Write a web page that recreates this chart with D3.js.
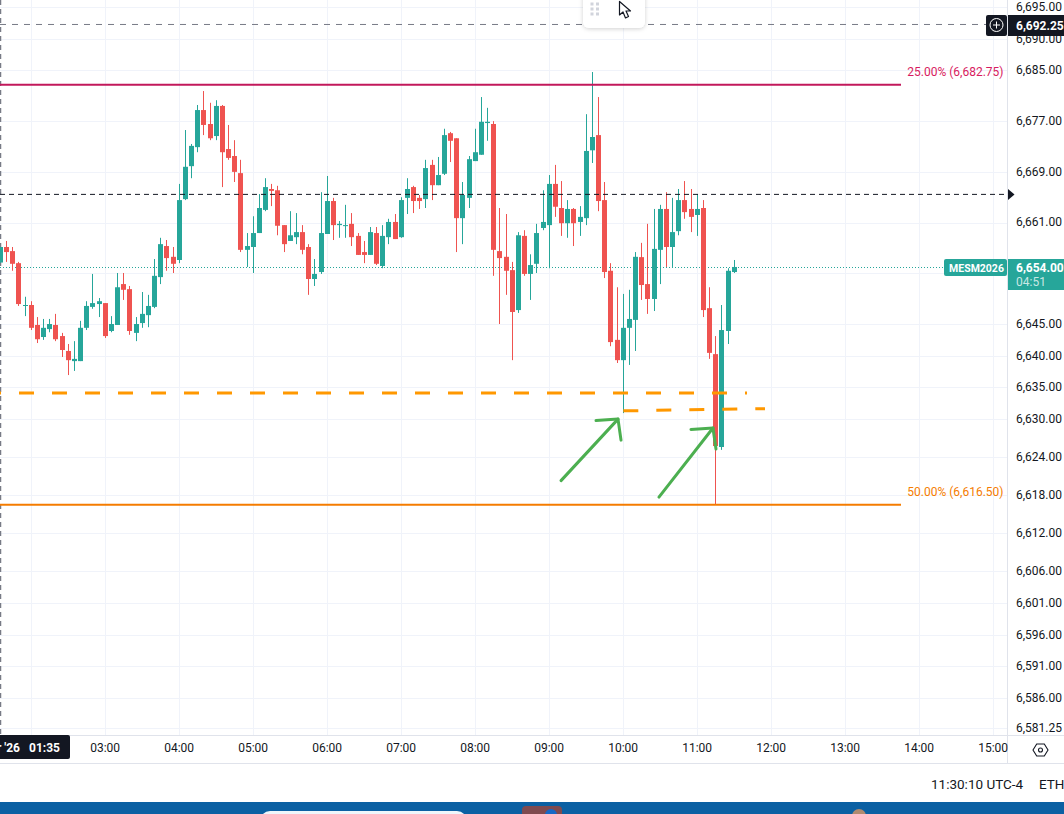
<!DOCTYPE html>
<html>
<head>
<meta charset="utf-8">
<script src="https://cdn.jsdelivr.net/npm/d3@7"></script>
<style>
html,body{margin:0;padding:0;background:#fff;overflow:hidden}
svg{display:block;font-family:Roboto,"Liberation Sans",sans-serif}
</style>
</head>
<body>
<svg id="c" width="1064" height="814"></svg>
<script>
// 5-minute bars, minutes since midnight of the first bar and bar step
const firstBarMinute = 95;
const barStepMinutes = 5;
const opens = [6654.7,6657.15,6656.5,6654.6,6647.85,6648.0,6644.85,6642.95,6644.2,6644.85,6643.1,6640.75,6639.15,6639.15,6644.4,6647.7,6648.15,6648.3,6643.9,6644.85,
6651.3,6650.5,6643.6,6645.15,6646.4,6647.7,6652.4,6657.3,6655.6,6655.1,6664.7,6669.9,6672.9,6678.75,6676.55,6674.65,6679.4,6672.6,6671.5,6668.8,
6656.7,6657.15,6659.35,6663.0,6666.3,6666.1,6660.6,6658.1,6658.7,6659.5,6657.15,6652.1,6653.2,6659.2,6664.4,6660.6,6660.5,6660.8,6658.9,6656.35,
6655.9,6659.35,6654.15,6658.7,6661.1,6658.7,6664.9,6666.6,6664.9,6664.7,6670.1,6666.9,6668.7,6675.1,6674.3,6661.7,6664.9,6670.7,6671.7,6676.7,
6676.55,6656.5,6655.6,6653.5,6647.2,6658.9,6652.9,6654.5,6660.15,6660.6,6667.1,6663.3,6660.9,6663.15,6661.1,6661.7,6672.4,6674.8,6664.55,6653.4,
6642.5,6639.3,6644.4,6645.65,6655.55,6651.3,6648.95,6656.7,6663.15,6657.15,6659.65,6664.55,6663.15,6662.2,6663.3,6647.5,6640.25,6625.6,6643.9,6653.2];
const highs = [6657.15,6658.1,6657.15,6654.8,6649.3,6648.6,6646.1,6645.8,6645.8,6646.6,6643.6,6641.85,6642.3,6645.5,6648.6,6652.9,6649.1,6648.3,6646.25,6653.05,
6653.05,6651.0,6646.1,6650.05,6649.6,6655.25,6658.6,6658.25,6657.15,6667.1,6675.6,6673.4,6679.55,6681.75,6679.9,6680.3,6679.55,6676.4,6674.0,6670.9,
6659.35,6662.0,6665.5,6668.0,6667.1,6666.8,6660.6,6662.8,6662.5,6660.6,6657.6,6655.25,6665.8,6668.35,6664.9,6661.25,6663.8,6662.5,6659.35,6658.1,
6660.3,6660.3,6660.6,6661.6,6662.35,6665.0,6668.0,6666.8,6665.35,6670.9,6670.9,6671.35,6675.8,6675.3,6674.3,6667.4,6671.5,6675.8,6680.8,6679.1,
6677.0,6663.3,6662.35,6654.8,6659.5,6659.8,6656.0,6660.8,6666.1,6668.5,6670.1,6667.55,6664.55,6663.3,6663.6,6678.1,6684.75,6680.8,6667.4,6654.6,
6650.8,6649.75,6650.4,6656.35,6657.8,6660.8,6663.15,6663.8,6665.8,6664.9,6666.3,6667.55,6666.3,6665.5,6664.55,6650.8,6643.1,6648.0,6653.8,6655.1];
const lows = [6654.7,6654.8,6653.4,6647.85,6646.25,6644.05,6642.0,6642.5,6643.7,6642.3,6639.8,6636.95,6637.6,6639.15,6644.05,6647.4,6646.1,6642.8,6643.7,6644.85,
6648.8,6643.3,6642.3,6644.4,6644.5,6647.5,6651.3,6653.4,6653.05,6654.6,6664.55,6668.0,6672.1,6674.8,6674.0,6674.0,6666.6,6670.9,6667.4,6656.35,
6654.0,6653.05,6659.35,6662.8,6663.6,6659.0,6656.35,6658.1,6657.6,6656.0,6649.6,6651.0,6652.9,6659.2,6658.25,6658.6,6658.6,6657.3,6655.9,6654.6,
6655.9,6654.3,6653.8,6657.6,6658.4,6658.6,6662.35,6662.5,6663.15,6663.3,6664.55,6666.9,6668.5,6670.55,6656.35,6657.6,6663.3,6670.7,6671.7,6673.9,
6652.6,6645.0,6649.6,6639.3,6646.75,6652.6,6648.8,6653.05,6659.8,6653.8,6661.9,6658.9,6658.6,6657.3,6658.9,6660.6,6670.4,6662.8,6652.25,6641.5,
6638.85,6630.95,6638.55,6640.75,6648.8,6646.6,6647.05,6651.3,6654.0,6654.0,6659.0,6661.6,6659.5,6658.9,6646.1,6639.5,6616.5,6625.15,6641.85,6653.05];
const closes = [6657.15,6656.35,6654.5,6648.15,6648.0,6644.4,6642.6,6644.4,6645.0,6642.6,6640.9,6639.3,6639.5,6644.4,6647.85,6648.3,6648.6,6643.1,6645.0,6650.8,
6650.4,6643.9,6645.0,6646.6,6647.85,6652.6,6657.6,6655.4,6654.5,6664.55,6669.8,6673.1,6678.75,6676.4,6674.3,6679.4,6672.1,6671.2,6669.0,6656.7,
6657.3,6659.35,6663.3,6666.6,6666.0,6660.5,6657.6,6659.0,6659.5,6656.7,6652.1,6652.9,6659.35,6664.4,6660.6,6660.8,6660.6,6658.7,6655.9,6655.9,
6659.5,6654.5,6658.9,6661.1,6658.4,6664.55,6666.3,6664.4,6664.4,6669.6,6666.9,6668.5,6674.8,6673.9,6661.7,6665.35,6671.0,6672.1,6676.9,6676.9,
6656.7,6655.4,6653.4,6646.9,6659.0,6652.9,6654.3,6659.35,6661.1,6667.1,6663.5,6660.9,6663.15,6660.9,6661.9,6672.3,6674.5,6664.4,6653.2,6642.15,
6639.3,6644.4,6645.8,6655.6,6651.15,6648.95,6656.85,6663.15,6657.15,6659.5,6664.55,6662.65,6661.9,6663.15,6647.2,6640.45,6625.75,6644.05,6653.4,6654.0];

const yGridValues = [6695,6690,6685,6677,6669,6661,6653,6645,6640,6635,6630,6624,6618,6612,6606,6601,6596,6591,6586,6581.25];
const yHiddenLabels = [6653];
const xGridMinutes = [120,180,240,300,360,420,480,540,600,660,720,780,840,900];
const xHiddenLabels = [120];
const fibLevels = [{label:"25.00% (6,682.75)",price:6682.75,color:"#c2185b",text:"#d81b60"},
                   {label:"50.00% (6,616.50)",price:6616.5,color:"#f57c00",text:"#f57c00"}];
const symbol = "MESM2026", lastPrice = 6654, countdown = "04:51";
const dateLabel = "Apr '26";
const pendingPrice = 6692.25, blackLinePrice = 6665.45;
const supportAPrice = 6634.1;
const supportBPrices = [6631.3,6631.65];
// green arrows: [minute, price] of tail and tip
const arrows = [[[549.5,6620.3],[595.7,6630.0]],[[628.9,6617.7],[672.7,6628.6]]];

const W=1064, plotRight=1007.5, axisY=735, axisBottom=763;
const x = d3.scaleLinear().domain([95,900]).range([0.5,993.3]);
const y = d3.scaleLinear().domain([6682.75,6616.5]).range([84.7,504.7]);
const svg = d3.select("#c");

// grid
const grid = svg.append("g").attr("stroke","#f0f3fa").attr("stroke-width",1);
grid.selectAll("line.h").data(yGridValues).join("line").attr("class","h")
  .attr("x1",0).attr("x2",plotRight).attr("y1",d=>Math.round(y(d))+.5).attr("y2",d=>Math.round(y(d))+.5);
grid.selectAll("line.v").data(xGridMinutes).join("line").attr("class","v")
  .attr("y1",0).attr("y2",axisY).attr("x1",d=>Math.floor(x(d))+.5).attr("x2",d=>Math.floor(x(d))+.5);

// crosshair vertical dashed at left edge
svg.append("line").attr("x1",0.5).attr("x2",0.5).attr("y1",0).attr("y2",axisY)
  .attr("stroke","#787b86").attr("stroke-width",1.5).attr("stroke-dasharray","5 4");

// dotted last price line
const lpY = Math.round(y(lastPrice))+.5;
svg.append("line").attr("x1",0).attr("x2",945).attr("y1",lpY).attr("y2",lpY)
  .attr("stroke","#26a69a").attr("stroke-dasharray","1 2").attr("stroke-width",1);

// candles
const bars = d3.range(opens.length).map(i=>({m:firstBarMinute+i*barStepMinutes,o:opens[i],h:highs[i],l:lows[i],c:closes[i]}));
const barX = d=>Math.floor(x(d.m))+0.5;
const col = d=>d.c>=d.o?"#26a69a":"#ef5350";
const gc = svg.append("g");
gc.selectAll("line").data(bars).join("line")
  .attr("x1",barX).attr("x2",barX).attr("y1",d=>y(d.h)).attr("y2",d=>y(d.l))
  .attr("stroke",col).attr("stroke-width",1);
gc.selectAll("rect").data(bars).join("rect")
  .attr("x",d=>barX(d)-2.5).attr("width",5)
  .attr("y",d=>y(Math.max(d.o,d.c))).attr("height",d=>Math.max(1,Math.abs(y(d.o)-y(d.c))))
  .attr("fill",col);

// horizontal black dashed
svg.append("line").attr("x1",0).attr("x2",1006).attr("y1",y(blackLinePrice)).attr("y2",y(blackLinePrice))
  .attr("stroke","#131722").attr("stroke-width",1).attr("stroke-dasharray","5 4");

// pending gray dashed
svg.append("line").attr("x1",0).attr("x2",986).attr("y1",y(pendingPrice)).attr("y2",y(pendingPrice))
  .attr("stroke","#787b86").attr("stroke-width",1).attr("stroke-dasharray","6 6");

// fib levels
fibLevels.forEach(f=>{
  svg.append("line").attr("x1",0).attr("x2",901).attr("y1",y(f.price)).attr("y2",y(f.price))
    .attr("stroke",f.color).attr("stroke-width",2);
  svg.append("text").attr("x",1003.5).attr("y",y(f.price)-11.5).attr("text-anchor","end")
    .attr("fill",f.text).attr("font-size",12).attr("dominant-baseline","middle").text(f.label);
});

// hand drawn orange support lines
svg.append("line").attr("x1",-14).attr("x2",747).attr("y1",y(supportAPrice)).attr("y2",y(supportAPrice))
  .attr("stroke","#ff9800").attr("stroke-width",3).attr("stroke-dasharray","15 18");
svg.append("line").attr("x1",x(600)).attr("x2",765)
  .attr("y1",y(supportBPrices[0])).attr("y2",y(supportBPrices[1]))
  .attr("stroke","#ff9800").attr("stroke-width",3).attr("stroke-dasharray","15 18");

// green arrows
arrows.forEach(a=>{
  const x0=x(a[0][0]),y0=y(a[0][1]),x1=x(a[1][0]),y1=y(a[1][1]);
  const g=svg.append("g").attr("fill","none").attr("stroke","#4caf50").attr("stroke-width",3).attr("stroke-linecap","round").attr("stroke-linejoin","round");
  g.append("line").attr("x1",x0).attr("y1",y0).attr("x2",x1).attr("y2",y1);
  g.append("path").attr("d",`M${x1-22} ${y1+1.5}L${x1} ${y1}L${x1+3} ${y1+21}`);
});

// floating toolbar
const defs=svg.append("defs");
defs.append("filter").attr("id","sh").attr("x","-30%").attr("y","-30%").attr("width","160%").attr("height","160%")
  .append("feDropShadow").attr("dx",0).attr("dy",1).attr("stdDeviation",2).attr("flood-color","#000").attr("flood-opacity",.18);
svg.append("rect").attr("x",583).attr("y",-12).attr("width",62).attr("height",40).attr("rx",6).attr("fill","#fff").attr("filter","url(#sh)");
[[592,4],[597.5,4],[592,9],[597.5,9],[592,14],[597.5,14]].forEach(p=>
  svg.append("rect").attr("x",p[0]-1.5).attr("y",p[1]-1.5).attr("width",3).attr("height",3).attr("fill","#d1d4dc"));
svg.append("path").attr("d","M619.5 1.5L619.5 15L623 12L625.5 18L628.5 16.5L626 11L630.5 11Z")
  .attr("fill","#fff").attr("stroke","#131722").attr("stroke-width",1.2).attr("stroke-linejoin","round");

// axes backgrounds
svg.append("rect").attr("x",plotRight).attr("y",0).attr("width",W-plotRight).attr("height",axisBottom).attr("fill","#fff");
svg.append("rect").attr("x",0).attr("y",axisY).attr("width",W).attr("height",axisBottom-axisY).attr("fill","#fff");
svg.append("line").attr("x1",0).attr("x2",W).attr("y1",735.5).attr("y2",735.5).attr("stroke","#e0e3eb");
svg.append("line").attr("x1",0).attr("x2",W).attr("y1",763.5).attr("y2",763.5).attr("stroke","#e0e3eb");
svg.append("line").attr("x1",plotRight).attr("x2",plotRight).attr("y1",0).attr("y2",763).attr("stroke","#e0e3eb");
const by = y(blackLinePrice);
svg.append("path").attr("fill","#131722").attr("d",`M1008 ${by-5.5}L1014.5 ${by}L1008 ${by+5.5}Z`);

// y axis
const yAxis = d3.axisRight(y).tickValues(yGridValues.filter(v=>!yHiddenLabels.includes(v))).tickSize(0).tickPadding(0).tickFormat(d3.format(",.2f"));
const ya = svg.append("g").attr("transform","translate(1016,-0.5)").call(yAxis);
ya.select(".domain").remove();
ya.selectAll("text").attr("fill","#131722").attr("font-size",12).attr("font-family","Roboto,sans-serif");

// x axis
const fmtT = m=>String(Math.floor(m/60)).padStart(2,"0")+":"+String(m%60).padStart(2,"0");
const xAxis = d3.axisBottom(x).tickValues(xGridMinutes.filter(v=>!xHiddenLabels.includes(v))).tickSize(0).tickPadding(0).tickFormat(fmtT);
const xa = svg.append("g").attr("transform","translate(-0.7,743.5)").call(xAxis);
xa.select(".domain").remove();
xa.selectAll("text").attr("fill","#131722").attr("font-size",12).attr("font-family","Roboto,sans-serif");

// time crosshair label
svg.append("rect").attr("x",-4).attr("y",735).attr("width",74).attr("height",24).attr("rx",2).attr("fill","#131722");
svg.append("text").attr("x",20).attr("y",752).attr("text-anchor","end").attr("fill","#fff").attr("font-size",12).attr("font-weight",700).text(dateLabel);
svg.append("text").attr("x",60).attr("y",752).attr("text-anchor","end").attr("fill","#fff").attr("font-size",12).attr("font-weight",700).text(fmtT(firstBarMinute));

// pending price tag
svg.append("rect").attr("x",986).attr("y",15).attr("width",21).attr("height",21).attr("rx",2).attr("fill","#131722");
svg.append("circle").attr("cx",996.5).attr("cy",25).attr("r",6.5).attr("fill","none").attr("stroke","#fff");
svg.append("path").attr("d","M996.5 21.5V28.5M993 25H1000").attr("stroke","#fff");
svg.append("rect").attr("x",1008).attr("y",15).attr("width",56).attr("height",21).attr("fill","#131722");
svg.append("text").attr("x",1016).attr("y",29.5).attr("fill","#fff").attr("font-size",12).attr("font-weight",700).text(d3.format(",.2f")(pendingPrice));

// last price tags
svg.append("rect").attr("x",944).attr("y",259).attr("width",63).attr("height",17).attr("rx",2).attr("fill","#26a69a");
svg.append("text").attr("x",976.5).attr("y",272).attr("text-anchor","middle").attr("fill","#fff").attr("font-size",10.5).attr("font-weight",700).text(symbol);
svg.append("rect").attr("x",1008).attr("y",259).attr("width",56).attr("height",31).attr("fill","#26a69a");
svg.append("text").attr("x",1016).attr("y",271.5).attr("fill","#fff").attr("font-size",12).attr("font-weight",700).text(d3.format(",.2f")(lastPrice));
svg.append("text").attr("x",1016).attr("y",285.5).attr("fill","#fff").attr("fill-opacity",.75).attr("font-size",12).text(countdown);

// settings hexagon
svg.append("path").attr("d","M1033 750L1036.7 744H1044.3L1048 750L1044.3 756H1036.7Z").attr("fill","none").attr("stroke","#131722").attr("stroke-width",1.1);
svg.append("circle").attr("cx",1040.5).attr("cy",750).attr("r",2).attr("fill","none").attr("stroke","#131722").attr("stroke-width",1.1);

// footer
svg.append("text").attr("x",931).attr("y",789).attr("fill","#131722").attr("font-size",13.5).text("11:30:10 UTC-4");
svg.append("text").attr("x",1039).attr("y",789).attr("fill","#131722").attr("font-size",13.5).text("ETH");

// taskbar
svg.append("rect").attr("x",0).attr("y",802).attr("width",W).attr("height",12).attr("fill","#0b60a3");
svg.append("rect").attr("x",260).attr("y",811).attr("width",207).attr("height",20).attr("rx",10).attr("fill","#eef6fb");
svg.append("rect").attr("x",522).attr("y",806).attr("width",40).attr("height",12).attr("rx",4).attr("fill","#7f4a4f");
svg.append("circle").attr("cx",551).attr("cy",815).attr("r",6).attr("fill","#1668c7");
svg.append("circle").attr("cx",859).attr("cy",816).attr("r",7).attr("fill","#b08a70");
</script>
</body>
</html>
